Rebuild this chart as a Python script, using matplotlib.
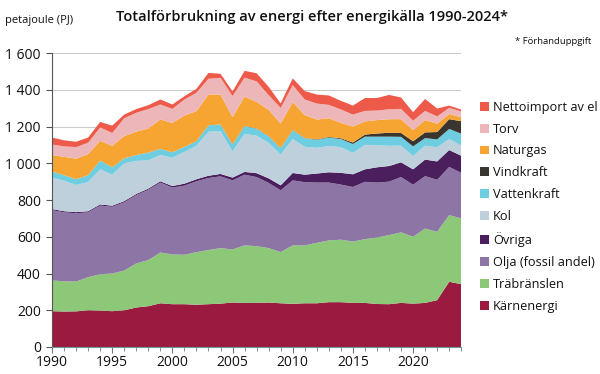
import matplotlib
matplotlib.use("Agg")
import matplotlib.pyplot as plt
from matplotlib.ticker import FuncFormatter, MultipleLocator
from matplotlib.patches import Patch

years = list(range(1990, 2025))

karnenergi = [195,193,194,200,198,195,200,215,222,238,233,233,230,233,236,242,240,240,242,238,235,238,238,244,244,240,240,234,233,240,236,240,255,355,342]
trabranslen = [167,165,162,180,198,205,216,240,251,276,271,269,286,295,302,289,313,309,296,279,318,315,329,336,340,334,347,362,376,384,364,405,372,363,358]
olja = [383,375,372,353,374,363,372,372,383,381,364,376,386,392,391,376,385,376,355,336,354,344,328,315,300,297,312,299,291,301,283,285,283,262,248]
ovriga = [6,6,6,6,6,6,6,6,6,7,8,11,11,12,13,15,15,21,25,27,40,41,49,56,64,69,68,83,85,80,84,90,100,92,93]
kol = [171,166,148,159,191,169,206,180,154,143,154,173,182,240,232,143,207,204,193,167,185,152,140,143,140,116,133,120,110,91,72,76,77,60,55]
vattenkraft = [33,30,31,37,48,40,27,32,42,33,30,27,25,35,37,37,42,38,36,35,48,46,44,46,44,49,45,47,50,48,53,41,43,55,65]
vindkraft = [0,0,0,0,0,0,0,0,0,0,0,0,0,0,0,1,1,1,1,1,1,1,2,3,4,8,11,17,21,21,28,31,40,53,68]
naturgas = [90,100,112,115,107,117,121,127,132,160,160,171,164,167,163,148,160,145,143,133,152,125,108,102,84,87,72,73,74,75,60,67,45,28,21]
torv = [57,57,63,62,73,70,97,103,105,82,76,87,100,86,91,115,103,112,80,85,93,85,87,73,73,65,57,52,54,56,52,50,40,34,32]
nettoimport = [38,33,29,28,30,40,20,20,21,27,24,18,21,32,22,25,37,44,45,25,36,46,49,51,47,49,70,68,78,62,46,65,43,12,10]

labels = ["Kärnenergi", "Träbränslen", "Olja (fossil andel)", "Övriga", "Kol",
          "Vattenkraft", "Vindkraft", "Naturgas", "Torv", "Nettoimport av el"]
series = [karnenergi, trabranslen, olja, ovriga, kol, vattenkraft, vindkraft,
          naturgas, torv, nettoimport]
colors = ["#9A1A40", "#8DC878", "#8D76A6", "#4B1F5E", "#BFD0DD",
          "#6FCDE1", "#3B3530", "#F6A533", "#EDB6B8", "#EE5A49"]

plt.rcParams['font.family'] = ['Open Sans', 'DejaVu Sans']

fig = plt.figure(figsize=(6.0, 3.74), dpi=100)
ax = fig.add_axes([0.0867, 0.0722, 0.682, 0.786])

ax.stackplot(years, *series, colors=colors, linewidth=0, zorder=2)

ax.set_xlim(1990, 2024)
ax.set_ylim(0, 1600)
ax.yaxis.set_major_locator(MultipleLocator(200))
ax.yaxis.set_major_formatter(FuncFormatter(lambda v, p: f"{int(v):,}".replace(",", " ")))
ax.set_xticks(list(range(1990, 2025)), minor=True)
ax.set_xticks([1990, 1995, 2000, 2005, 2010, 2015, 2020])
ax.grid(axis='y', color='#cccccc', linewidth=0.8, zorder=0)
ax.set_axisbelow(True)

for s in ['top', 'right']:
    ax.spines[s].set_visible(False)
ax.spines['left'].set_color('#555555')
ax.spines['bottom'].set_color('#6a9a9a')
ax.spines['left'].set_linewidth(0.8)
ax.spines['bottom'].set_linewidth(0.8)

ax.tick_params(axis='y', length=4, color='#555555', labelsize=10, pad=4)
ax.tick_params(axis='x', which='both', length=4, color='#777777', labelsize=10, pad=2)
ax.tick_params(axis='x', which='minor', length=3)

for lbl in ax.get_xticklabels() + ax.get_yticklabels():
    lbl.set_fontweight('medium')
    lbl.set_color('#111111')

fig.text(0.52, 0.955, "Totalförbrukning av energi efter energikälla 1990-2024*",
         ha='center', va='center', fontsize=10.5, fontweight='semibold', color='#111111')
fig.text(0.008, 0.945, "petajoule (PJ)", ha='left', va='center', fontsize=8, color='#111111')
fig.text(0.985, 0.888, "* Förhanduppgift", ha='right', va='center', fontsize=6.8, color='#111111')

handles = [Patch(facecolor=c, edgecolor='none', label=l) for c, l in zip(colors, labels)]
leg = fig.legend(handles[::-1], labels[::-1], loc='center left',
                 bbox_to_anchor=(0.792, 0.447), frameon=False,
                 fontsize=9.2, handlelength=0.7, handleheight=0.7,
                 handletextpad=0.3, labelspacing=0.7, borderaxespad=0)
for t in leg.get_texts():
    t.set_fontweight('medium')
    t.set_color('#111111')

fig.savefig("out.png", dpi=100)
